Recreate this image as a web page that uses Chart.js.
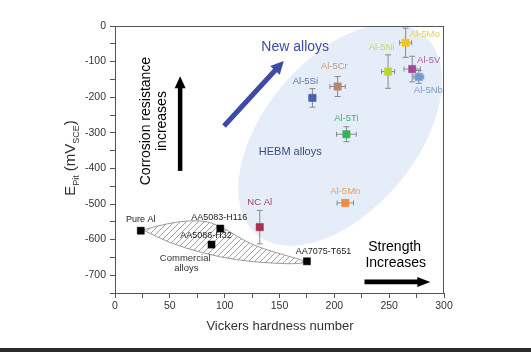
<!DOCTYPE html>
<html><head><meta charset="utf-8">
<script src="https://cdn.jsdelivr.net/npm/chart.js@4.4.0/dist/chart.umd.min.js"></script>
<style>
html,body{margin:0;padding:0;background:#2c2c2c;}
#wrap{width:531px;height:348px;background:#fff;}
canvas{display:block;}
</style></head><body>
<div id="wrap"><canvas id="c" width="531" height="348"></canvas></div>
<script>
// ---- data ----
const alloyNames = ['Al-5Mo','Al-5Ni','Al-5V','Al-5Nb','Al-5Cr','Al-5Si','Al-5Ti','Al-5Mn','NC Al'];
const alloyHV    = [265, 249, 271, 277, 203, 180, 211, 210, 132];
const alloyEpit  = [-47, -128, -121, -143, -170, -202, -304, -497, -565];
const alloyHVErr = [5.5, 6, 7.5, 4.5, 7, 3, 9, 7.5, 2];
const alloyEpErr = [41, 47, 36, 18, 28, 26, 21, 8, 47];
const commNames  = ['Pure Al','AA5083-H116','AA5086-H32','AA7075-T651'];
const commHV     = [23.5, 96, 88, 175];
const commEpit   = [-575, -569, -614, -661];
const xTicks = [0, 50, 100, 150, 200, 250, 300];
const yTicks = [0, -100, -200, -300, -400, -500, -600, -700];

// ---- styles ----
const alloyColors = ['#f3c51c','#b9d633','#a1479b','#6e9cd2','#b8876b','#4b5fb1','#2fb45b','#f28b3b','#a8304f'];
const labelColors = ['#efcf45','#c2dc62','#aa5ca6','#7f9cc0','#c09a80','#5a6fb0','#3fb070','#e59e6e','#a24463'];
const alloyLabelOff = [[19,-8.5],[-6.5,-24],[16.5,-9],[9.6,13.8],[-3.3,-19.8],[-7,-17],[0,-16],[0,-12],[0,-25]];
const commLabelOff  = [[0,-11],[-1,-11],[-5.5,-8.7],[16.5,-10]];
const FONT = "'Liberation Sans', Arial, sans-serif";

const ellipseShape = {cx: 205.3, cy: -305.5, rx: 130, ry: 76, rot: -50};
const lensUpper = [[25.7,-573],[50,-551],[80,-545],[96,-562],[111,-590],[126,-616],[148,-638],[168,-655],[174,-663]];
const lensLower = [[25.7,-573],[50,-610],[80,-638],[111,-658],[141,-666],[168,-669],[174,-663]];

const notes = [
  {t:'New alloys', x:164.3, y:-59, size:14, color:'#3b4ba6'},
  {t:'HEBM alloys', x:159.8, y:-353, size:11, color:'#3a4a80'},
  {t:'Commercial', x:64, y:-654, size:9.5, color:'#333'},
  {t:'alloys', x:65, y:-682, size:9.5, color:'#333'},
  {t:'Strength', x:255, y:-622, size:14, color:'#000'},
  {t:'Increases', x:256, y:-667, size:14, color:'#000'}
];
const vNotes = [
  {t:'Corrosion resistance', x:31.5, y:-267, size:14},
  {t:'increases', x:46.8, y:-267, size:14}
];
const arrows = [
  {x1:59.4, y1:-407, x2:59.4, y2:-141, color:'#000', w:4.5, hl:12, hw:11},
  {x1:99.4, y1:-281, x2:153.9, y2:-98, color:'#3d4aa6', w:5, hl:13, hw:13},
  {x1:227.5, y1:-719, x2:287.5, y2:-719, color:'#000', w:4.7, hl:13, hw:10}
];

function hatchPattern(ctx){
  const c = document.createElement('canvas'); c.width = 6; c.height = 6;
  const g = c.getContext('2d');
  g.strokeStyle = '#a0a0a0'; g.lineWidth = 1;
  g.beginPath(); g.moveTo(0,6); g.lineTo(6,0); g.moveTo(-3,3); g.lineTo(3,-3); g.moveTo(3,9); g.lineTo(9,3); g.stroke();
  return ctx.createPattern(c, 'repeat');
}
function smooth(ctx, pts, first){
  if (first) ctx.moveTo(pts[0][0], pts[0][1]); else ctx.lineTo(pts[0][0], pts[0][1]);
  for (let i=1;i<pts.length-1;i++){
    const xc=(pts[i][0]+pts[i+1][0])/2, yc=(pts[i][1]+pts[i+1][1])/2;
    ctx.quadraticCurveTo(pts[i][0], pts[i][1], xc, yc);
  }
  const l = pts[pts.length-1]; ctx.lineTo(l[0], l[1]);
}
function drawArrow(ctx, x1,y1,x2,y2,color,w,hl,hw){
  const a = Math.atan2(y2-y1, x2-x1);
  const bx = x2 - hl*Math.cos(a), by = y2 - hl*Math.sin(a);
  ctx.save();
  ctx.strokeStyle = color; ctx.fillStyle = color; ctx.lineWidth = w; ctx.lineCap='butt';
  ctx.beginPath(); ctx.moveTo(x1,y1); ctx.lineTo(bx+Math.cos(a),by+Math.sin(a)); ctx.stroke();
  ctx.beginPath(); ctx.moveTo(x2,y2);
  ctx.lineTo(bx + hw/2*Math.sin(a), by - hw/2*Math.cos(a));
  ctx.lineTo(bx - hw/2*Math.sin(a), by + hw/2*Math.cos(a));
  ctx.closePath(); ctx.fill();
  ctx.restore();
}

const decor = {
  id: 'decor',
  beforeDatasetsDraw(chart){
    const {ctx, chartArea:ca, scales:{x,y}} = chart;
    ctx.save();
    ctx.beginPath(); ctx.rect(ca.left, ca.top, ca.right-ca.left, ca.bottom-ca.top); ctx.clip();
    // ellipse
    ctx.beginPath();
    ctx.ellipse(x.getPixelForValue(ellipseShape.cx), y.getPixelForValue(ellipseShape.cy), ellipseShape.rx, ellipseShape.ry, ellipseShape.rot*Math.PI/180, 0, Math.PI*2);
    ctx.fillStyle = '#e5edf9'; ctx.fill();
    // lens
    const up = lensUpper.map(p=>[x.getPixelForValue(p[0]), y.getPixelForValue(p[1])]);
    const lo = lensLower.map(p=>[x.getPixelForValue(p[0]), y.getPixelForValue(p[1])]).reverse();
    ctx.beginPath(); smooth(ctx, up, true); smooth(ctx, lo, false); ctx.closePath();
    ctx.fillStyle = hatchPattern(ctx); ctx.fill();
    ctx.strokeStyle = '#9a9a9a'; ctx.lineWidth = 1; ctx.stroke();
    ctx.restore();
    // error bars
    ctx.save();
    ctx.strokeStyle = '#8a8a8a'; ctx.lineWidth = 1;
    alloyHV.forEach((hv,i)=>{
      const cx = x.getPixelForValue(hv), cy = y.getPixelForValue(alloyEpit[i]);
      const y1 = y.getPixelForValue(alloyEpit[i]+alloyEpErr[i]), y2 = y.getPixelForValue(alloyEpit[i]-alloyEpErr[i]);
      const x1 = x.getPixelForValue(hv-alloyHVErr[i]), x2 = x.getPixelForValue(hv+alloyHVErr[i]);
      ctx.beginPath();
      ctx.moveTo(cx, y1); ctx.lineTo(cx, y2);
      ctx.moveTo(cx-3, y1); ctx.lineTo(cx+3, y1);
      ctx.moveTo(cx-3, y2); ctx.lineTo(cx+3, y2);
      ctx.moveTo(x1, cy); ctx.lineTo(x2, cy);
      ctx.moveTo(x1, cy-2.5); ctx.lineTo(x1, cy+2.5);
      ctx.moveTo(x2, cy-2.5); ctx.lineTo(x2, cy+2.5);
      ctx.stroke();
    });
    ctx.restore();
  },
  afterDatasetsDraw(chart){
    const {ctx, chartArea:ca, scales:{x,y}} = chart;
    ctx.save();
    // frame
    ctx.strokeStyle = '#555'; ctx.lineWidth = 1;
    ctx.strokeRect(ca.left+0.5, ca.top+0.5, ca.right-ca.left-1, ca.bottom-ca.top);
    ctx.textAlign = 'center'; ctx.textBaseline = 'middle';
    // point labels
    alloyNames.forEach((n,i)=>{
      ctx.font = `9.5px ${FONT}`; ctx.fillStyle = labelColors[i];
      ctx.fillText(n, x.getPixelForValue(alloyHV[i])+alloyLabelOff[i][0], y.getPixelForValue(alloyEpit[i])+alloyLabelOff[i][1]);
    });
    commNames.forEach((n,i)=>{
      ctx.font = `9px ${FONT}`; ctx.fillStyle = '#222';
      ctx.fillText(n, x.getPixelForValue(commHV[i])+commLabelOff[i][0], y.getPixelForValue(commEpit[i])+commLabelOff[i][1]);
    });
    notes.forEach(n=>{
      ctx.font = `${n.size}px ${FONT}`; ctx.fillStyle = n.color;
      ctx.fillText(n.t, x.getPixelForValue(n.x), y.getPixelForValue(n.y));
    });
    vNotes.forEach(n=>{
      ctx.save();
      ctx.translate(x.getPixelForValue(n.x), y.getPixelForValue(n.y));
      ctx.rotate(-Math.PI/2);
      ctx.textBaseline = 'alphabetic';
      ctx.font = `${n.size}px ${FONT}`; ctx.fillStyle = '#000';
      ctx.fillText(n.t, 0, 0);
      ctx.restore();
    });
    arrows.forEach(a=>drawArrow(ctx, x.getPixelForValue(a.x1), y.getPixelForValue(a.y1), x.getPixelForValue(a.x2), y.getPixelForValue(a.y2), a.color, a.w, a.hl, a.hw));
    // axis titles
    ctx.fillStyle = '#333';
    ctx.font = `13px ${FONT}`;
    ctx.fillText('Vickers hardness number', (ca.left+ca.right)/2 + 0.5, 326);
    // y title with subscripts
    const parts = [['E',15,0],['Pit',9,3.5],[' (mV',15,0],['SCE',9,3.5],[')',15,0]];
    let total = 0;
    parts.forEach(p=>{ctx.font=`${p[1]}px ${FONT}`; p.push(ctx.measureText(p[0]).width); total+=p[3];});
    ctx.save();
    ctx.translate(75, 158); ctx.rotate(-Math.PI/2);
    ctx.textAlign = 'left'; ctx.textBaseline = 'alphabetic';
    let cur = -total/2;
    parts.forEach(p=>{ctx.font=`${p[1]}px ${FONT}`; ctx.fillText(p[0], cur, p[2]); cur += p[3];});
    ctx.restore();
    ctx.restore();
  }
};

new Chart(document.getElementById('c'), {
  type: 'scatter',
  data: {
    datasets: [
      {data: alloyHV.map((v,i)=>({x:v, y:alloyEpit[i]})), pointStyle:'rect', pointRadius:5.2,
       backgroundColor: alloyColors, borderColor: alloyColors, borderWidth: 0.5},
      {data: commHV.map((v,i)=>({x:v, y:commEpit[i]})), pointStyle:'rect', pointRadius:5,
       backgroundColor:'#000', borderColor:'#000', borderWidth:0.5}
    ]
  },
  options: {
    responsive:false, animation:false,
    layout:{padding:{top:26, right:87, left:0, bottom:0}},
    plugins:{legend:{display:false}, tooltip:{enabled:false}},
    scales:{
      x:{type:'linear', min:0, max:300,
         afterFit(s){s.height = 55;},
         afterBuildTicks(s){ const t=[]; for(let v=0; v<=300; v+=25) t.push({value:v}); s.ticks=t; },
         ticks:{autoSkip:false, maxRotation:0, padding:2, color:'#333', font:{family:FONT, size:10.5},
                callback:(v)=> xTicks.includes(v) ? String(v) : ''},
         grid:{drawOnChartArea:false, tickLength:5, tickColor:'#555', color:'#555'},
         border:{display:true, color:'#555'}},
      y:{type:'linear', min:-750, max:0,
         afterFit(s){s.width = 115;},
         afterBuildTicks(s){ const t=[]; for(let v=-750; v<=0; v+=50) t.push({value:v}); s.ticks=t; },
         ticks:{autoSkip:false, padding:4, color:'#333', font:{family:FONT, size:10.5},
                callback:(v)=> yTicks.includes(v) ? String(v) : ''},
         grid:{drawOnChartArea:false, tickLength:5, tickColor:'#555', color:'#555'},
         border:{display:true, color:'#555'}}
    }
  },
  plugins:[decor]
});
</script>
</body></html>
